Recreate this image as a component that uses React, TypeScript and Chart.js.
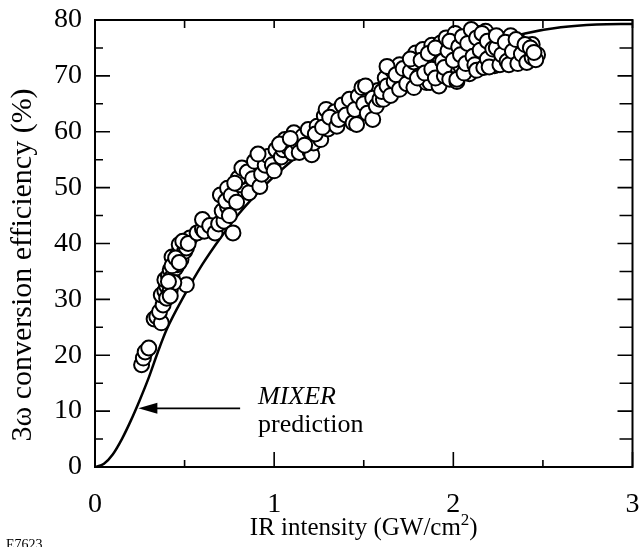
import React, { useEffect, useRef } from "react";
import { Chart, registerables } from "chart.js";

Chart.register(...registerables);

// Measured 3ω conversion efficiency (IR intensity GW/cm², efficiency %)
const measuredX: number[] = [
  0.26, 0.27, 0.28, 0.30, 0.33, 0.345, 0.37, 0.36,
  0.38, 0.37, 0.39, 0.40, 0.42, 0.39, 0.41, 0.42, 0.43, 0.44, 0.43, 0.45, 0.46, 0.47, 0.48, 0.50, 0.51, 0.51, 0.53, 0.46, 0.40, 0.44,
  0.41, 0.43, 0.45, 0.42, 0.47, 0.49, 0.52,
  0.57, 0.60, 0.61, 0.60, 0.64, 0.67, 0.69, 0.72, 0.77, 0.71, 0.74, 0.70, 0.73, 0.74, 0.76, 0.79, 0.81, 0.82, 0.80, 0.78, 0.75,
  0.82, 0.85, 0.86, 0.89, 0.88, 0.92, 0.93, 0.95, 0.97, 0.99, 1.00, 0.91,
  1.01, 1.04, 1.05, 1.06, 1.08, 1.11, 1.10, 1.13, 1.14, 1.16, 1.19, 1.20, 1.21, 1.22, 1.24, 1.26, 1.28, 1.30, 1.29, 1.32, 1.34,
  1.03, 1.09, 1.17, 1.23, 1.27, 1.31, 1.35, 1.39, 1.43, 1.48, 1.53, 1.58, 1.62, 1.66, 1.70, 1.73,
  1.36, 1.38, 1.40, 1.42, 1.44, 1.45, 1.46, 1.47, 1.49, 1.50, 1.51, 1.52, 1.55, 1.55, 1.57, 1.59, 1.61, 1.60, 1.63, 1.63, 1.65, 1.67,
  1.68, 1.70, 1.72, 1.74, 1.76, 1.78, 1.78, 1.79, 1.81, 1.83, 1.85, 1.85, 1.87, 1.87, 1.88, 1.89, 1.91, 1.92, 1.92, 1.93,
  1.76, 1.80, 1.82, 1.84, 1.86, 1.88, 1.90, 1.90, 1.94, 1.95, 1.96, 1.99, 2.00, 2.01, 2.04, 2.06, 2.07, 2.09, 2.10, 2.12,
  2.14, 2.15, 2.17, 2.18, 2.20, 2.21, 2.23, 2.25, 2.26, 2.28, 2.29, 2.31, 2.32, 2.34, 2.36, 2.37, 2.39, 2.42, 2.44, 2.47,
  1.95, 1.97, 1.98, 1.98, 2.00, 2.02, 2.02, 2.03, 2.04, 2.05, 2.06, 2.07, 2.08, 2.10, 2.11, 2.12, 2.13, 2.13, 2.15, 2.16, 2.17, 2.19, 2.19, 2.20,
  2.22, 2.24, 2.24, 2.26, 2.27, 2.29, 2.30, 2.31, 2.33, 2.35, 2.36, 2.38, 2.40, 2.41, 2.43, 2.44, 2.46, 2.45,
];
const measuredY: number[] = [
  18.3, 19.5, 20.6, 21.3, 26.5, 26.9, 25.8, 27.8,
  29.0, 30.8, 31.5, 32.4, 31.7, 33.5, 34.2, 35.3, 34.0, 36.8, 37.6, 35.6, 38.0, 39.8, 37.2, 38.6, 39.2, 32.6, 41.0, 36.2, 30.2, 33.0,
  33.2, 36.0, 37.4, 30.6, 36.6, 40.4, 40.0,
  41.9, 42.6, 42.2, 44.3, 43.2, 41.9, 43.5, 44.0, 41.9, 45.8, 46.6, 48.7, 47.6, 49.9, 48.6, 47.4, 50.5, 52.0, 51.7, 50.8, 45.0,
  53.5, 52.8, 49.1, 54.7, 51.6, 50.2, 52.4, 54.0, 55.6, 54.1, 53.0, 56.0,
  56.8, 55.5, 56.8, 58.6, 57.2, 59.8, 56.2, 58.0, 56.3, 59.2, 60.4, 56.5, 55.9, 58.0, 61.0, 58.6, 62.8, 60.5, 64.0, 61.6, 63.6,
  57.8, 58.8, 57.6, 59.6, 60.8, 62.6, 61.0, 62.6, 63.8, 63.2, 65.4, 67.4, 69.6, 71.0, 72.0, 69.6,
  62.2, 64.8, 63.0, 65.8, 61.6, 64.0, 61.3, 66.4, 67.9, 65.0, 68.2, 63.3, 62.2, 66.0, 64.6, 65.8, 65.8, 67.2, 68.2, 71.7, 66.5, 69.0,
  70.2, 67.6, 71.3, 68.6, 70.8, 67.9, 72.5, 74.1, 70.0, 74.7, 68.8, 72.0, 72.6, 68.8, 75.5, 70.6, 73.8, 69.0, 68.2, 75.9,
  73.0, 69.6, 72.8, 70.5, 74.0, 71.2, 75.0, 69.6, 72.6, 70.0, 76.8, 71.0, 75.0, 77.6, 71.8, 76.0, 74.0, 70.4, 76.6, 74.6,
  77.6, 72.4, 75.0, 78.0, 73.4, 76.8, 71.8, 73.5, 76.6, 74.8, 72.4, 75.4, 77.2, 73.0, 74.8, 76.0, 72.6, 74.0, 75.6, 73.8,
  71.5, 74.5, 69.4, 76.2, 72.8, 69.0, 69.4, 75.2, 73.8, 77.0, 70.5, 72.2, 75.8, 78.3, 73.5, 72.0, 76.8, 71.0, 74.6, 77.6, 71.5, 76.2, 73.0, 71.6,
  74.8, 75.0, 77.2, 72.0, 73.8, 76.0, 72.6, 72.0, 74.4, 76.5, 72.2, 73.9, 75.6, 72.4, 75.0, 73.3, 72.9, 74.2,
];

// MIXER prediction curve
const mixerX: number[] = [0, 0.05, 0.1, 0.15, 0.2, 0.25, 0.3, 0.35, 0.4, 0.5, 0.6, 0.7, 0.8, 0.9, 1.0, 1.2, 1.4, 1.6, 1.8, 2.0, 2.2, 2.4, 2.6, 2.8, 3.0];
const mixerY: number[] = [0, 0.6, 2.3, 5.0, 8.3, 12.0, 16.0, 20.5, 24.6, 30.8, 36.3, 41.0, 45.2, 48.8, 52.0, 57.5, 62.3, 66.5, 70.2, 73.3, 75.8, 77.6, 78.7, 79.2, 79.3];

// Axis tick values
const xTickValues: number[] = [0, 1, 2, 3];
const yTickValues: number[] = [0, 10, 20, 30, 40, 50, 60, 70, 80];
const xMinorStep = 0.5;
const yMinorStep = 5;

// Texts
const xTitleMain = "IR intensity (GW/cm";
const xTitleSup = "2";
const xTitleEnd = ")";
const yTitle = "3ω conversion efficiency (%)";
const annotationLine1 = "MIXER";
const annotationLine2 = "prediction";
const figureId = "E7623";

// Annotation anchors in data units
const arrowTip = { x: 0.242, y: 10.5 };
const arrowTail = { x: 0.81, y: 10.5 };
const annotationText = { x: 0.91, y1: 11.2, y2: 6.2 };

const SERIF = "'Liberation Serif', 'Times New Roman', Times, serif";

const framePlugin = {
  id: "frame",
  afterDatasetsDraw(chart: any) {
    const { ctx, chartArea: a, scales } = chart;
    const xs = scales.x;
    const ys = scales.y;
    ctx.save();
    ctx.strokeStyle = "#000";
    ctx.lineWidth = 2;
    ctx.strokeRect(a.left, a.top, a.right - a.left, a.bottom - a.top);

    ctx.lineWidth = 1.6;
    ctx.beginPath();
    const nx = Math.round((xs.max - xs.min) / xMinorStep);
    for (let i = 0; i <= nx; i++) {
      const v = xs.min + i * xMinorStep;
      const px = xs.getPixelForValue(v);
      const major = i % 2 === 0;
      const lb = major ? 15 : 7;
      ctx.moveTo(px, a.bottom);
      ctx.lineTo(px, a.bottom - lb);
      ctx.moveTo(px, a.top);
      ctx.lineTo(px, a.top + 8);
    }
    const ny = Math.round((ys.max - ys.min) / yMinorStep);
    for (let i = 0; i <= ny; i++) {
      const v = ys.min + i * yMinorStep;
      const py = ys.getPixelForValue(v);
      const major = i % 2 === 0;
      ctx.moveTo(a.left, py);
      ctx.lineTo(a.left + (major ? 15 : 8), py);
      ctx.moveTo(a.right, py);
      ctx.lineTo(a.right - (major ? 15 : 13), py);
    }
    ctx.stroke();

    // arrow annotation
    const tipX = xs.getPixelForValue(arrowTip.x);
    const tipY = ys.getPixelForValue(arrowTip.y);
    const tailX = xs.getPixelForValue(arrowTail.x);
    ctx.lineWidth = 1.6;
    ctx.beginPath();
    ctx.moveTo(tailX, tipY);
    ctx.lineTo(tipX + 15, tipY);
    ctx.stroke();
    ctx.fillStyle = "#000";
    ctx.beginPath();
    ctx.moveTo(tipX, tipY);
    ctx.lineTo(tipX + 19, tipY - 5.5);
    ctx.lineTo(tipX + 19, tipY + 5.5);
    ctx.closePath();
    ctx.fill();

    const tx = xs.getPixelForValue(annotationText.x);
    ctx.textAlign = "left";
    ctx.textBaseline = "alphabetic";
    ctx.font = `italic 26px ${SERIF}`;
    ctx.fillText(annotationLine1, tx, ys.getPixelForValue(annotationText.y1));
    ctx.font = `26px ${SERIF}`;
    ctx.fillText(annotationLine2, tx, ys.getPixelForValue(annotationText.y2));

    // x title with superscript
    ctx.font = `25px ${SERIF}`;
    const w1 = ctx.measureText(xTitleMain).width;
    const w3 = ctx.measureText(xTitleEnd).width;
    ctx.font = `17px ${SERIF}`;
    const w2 = ctx.measureText(xTitleSup).width;
    const total = w1 + w2 + w3;
    const cx = (a.left + a.right) / 2;
    let sx = cx - total / 2;
    const base = a.bottom + 68;
    ctx.font = `25px ${SERIF}`;
    ctx.fillText(xTitleMain, sx, base);
    sx += w1;
    ctx.font = `17px ${SERIF}`;
    ctx.fillText(xTitleSup, sx, base - 10);
    sx += w2;
    ctx.font = `25px ${SERIF}`;
    ctx.fillText(xTitleEnd, sx, base);

    // y title
    ctx.save();
    ctx.translate(31, 265);
    ctx.rotate(-Math.PI / 2);
    ctx.font = `30px ${SERIF}`;
    ctx.textAlign = "center";
    ctx.fillText(yTitle, 0, 0);
    ctx.restore();

    // figure id
    ctx.font = `14px ${SERIF}`;
    ctx.textAlign = "left";
    ctx.fillText(figureId, 6, chart.height + 2);

    ctx.restore();
  },
};

export default function App() {
  const canvasRef = useRef<HTMLCanvasElement | null>(null);

  useEffect(() => {
    const canvas = canvasRef.current;
    if (!canvas) return;
    const points = measuredX.map((x, i) => ({ x, y: measuredY[i] }));
    const curve = mixerX.map((x, i) => ({ x, y: mixerY[i] }));
    const chart = new Chart(canvas, {
      type: "scatter",
      data: {
        datasets: [
          {
            label: "Measured",
            data: points,
            pointRadius: 7.5,
            pointBorderWidth: 2,
            pointBackgroundColor: "#ffffff",
            pointBorderColor: "#000000",
            showLine: false,
            order: 0,
          },
          {
            label: "MIXER prediction",
            data: curve,
            showLine: true,
            pointRadius: 0,
            borderColor: "#000000",
            borderWidth: 2.5,
            cubicInterpolationMode: "monotone",
            order: 1,
          } as any,
        ],
      },
      options: {
        animation: false,
        responsive: false,
        events: [],
        layout: { padding: { left: 0, top: 20, right: 9, bottom: 0 } },
        plugins: { legend: { display: false }, tooltip: { enabled: false } },
        scales: {
          x: {
            type: "linear",
            min: 0,
            max: 3,
            afterFit: (s: any) => {
              s.height = 80;
              s.paddingLeft = 0;
              s.paddingRight = 0;
            },
            afterBuildTicks: (s: any) => { s.ticks = xTickValues.map((v) => ({ value: v })); },
            grid: { display: false, drawTicks: false },
            border: { display: false },
            ticks: { color: "#000", font: { family: SERIF, size: 28 }, padding: 21, maxRotation: 0 },
          },
          y: {
            type: "linear",
            min: 0,
            max: 80,
            afterFit: (s: any) => {
              s.width = 95;
              s.paddingTop = 0;
              s.paddingBottom = 0;
            },
            afterBuildTicks: (s: any) => { s.ticks = yTickValues.map((v) => ({ value: v })); },
            grid: { display: false, drawTicks: false },
            border: { display: false },
            ticks: { color: "#000", font: { family: SERIF, size: 28 }, padding: 13 },
          },
        },
      },
      plugins: [framePlugin],
    });
    return () => chart.destroy();
  }, []);

  return (
    <div style={{ position: "fixed", left: 0, top: 0, width: 642, height: 547, background: "#fff" }}>
      <canvas ref={canvasRef} width={642} height={547} style={{ display: "block" }} />
    </div>
  );
}
